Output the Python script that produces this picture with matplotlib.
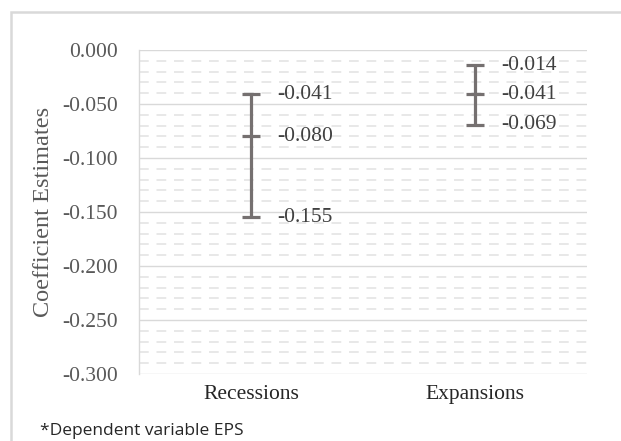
import numpy as np
import matplotlib.pyplot as plt
from matplotlib.patches import Rectangle
from matplotlib.ticker import MultipleLocator

categories = ['Recessions', 'Expansions']
estimates = [-0.080, -0.041]
upper = [-0.041, -0.014]
lower = [-0.155, -0.069]
yticks = [-0.3, -0.25, -0.2, -0.15, -0.1, -0.05, 0.0]

serif = ['Liberation Serif', 'DejaVu Serif']
grey = '#757070'

fig = plt.figure(figsize=(6.21, 4.41), dpi=100)
ax = fig.add_axes([0.2238, 0.152, 0.7215, 0.7346])

x = np.arange(len(categories))
est = np.array(estimates)
yerr = [est - np.array(lower), np.array(upper) - est]
ax.errorbar(x, est, yerr=yerr, fmt='_', color=grey, ecolor=grey,
            markersize=13.5, markeredgewidth=2.3, elinewidth=2.3,
            capsize=6.5, capthick=2.3, zorder=3)

for i in range(len(categories)):
    for v in (upper[i], estimates[i], lower[i]):
        ax.annotate(f'{v:.3f}', (x[i], v), xytext=(19, 0), textcoords='offset points',
                    va='center', ha='left', fontsize=15.5, family=serif, color='#404040')

ax.set_xlim(-0.5, 1.5)
ax.set_ylim(-0.3, 0.0)
ax.yaxis.set_minor_locator(MultipleLocator(0.01))
ax.set_yticks(yticks)
ax.set_yticklabels([f'{abs(v):.3f}' if v == 0 else f'{v:.3f}' for v in yticks],
                   family=serif, fontsize=15.5, color='#595959')
ax.set_xticks(x)
ax.set_xticklabels(categories, family=serif, fontsize=15.5, color='#262626')
ax.tick_params(axis='y', length=0, pad=15)
ax.tick_params(axis='x', length=0, pad=8)
ax.tick_params(axis='y', which='minor', length=0)

ax.grid(axis='y', which='major', color='#d9d9d9', linewidth=1)
ax.grid(axis='y', which='minor', color='#e8e8e8', linewidth=1.4, linestyle=(0, (5, 4)))
ax.set_axisbelow(True)
for s in ['top', 'right', 'bottom']:
    ax.spines[s].set_visible(False)
ax.spines['left'].set_color('#d9d9d9')
ax.spines['left'].set_linewidth(1)

ax.set_ylabel('Coefficient Estimates', family=serif, fontsize=17.5, color='#595959')
ax.yaxis.set_label_coords(-(139 - 54) / 448, 0.5)

# outer chart border (clipped at the right and bottom edges)
fig.patches.append(Rectangle((11 / 621, -0.1), 1.2, 1 - 12 / 441 + 0.1, transform=fig.transFigure,
                             fill=False, edgecolor='#d9d9d9', linewidth=1.8))

fig.text(40 / 621, 1 - 431 / 441, '*Dependent variable EPS', family=['Open Sans', 'DejaVu Sans'],
         fontsize=12.5, color='#262626', va='center', ha='left')

fig.savefig('out.png', dpi=100)
